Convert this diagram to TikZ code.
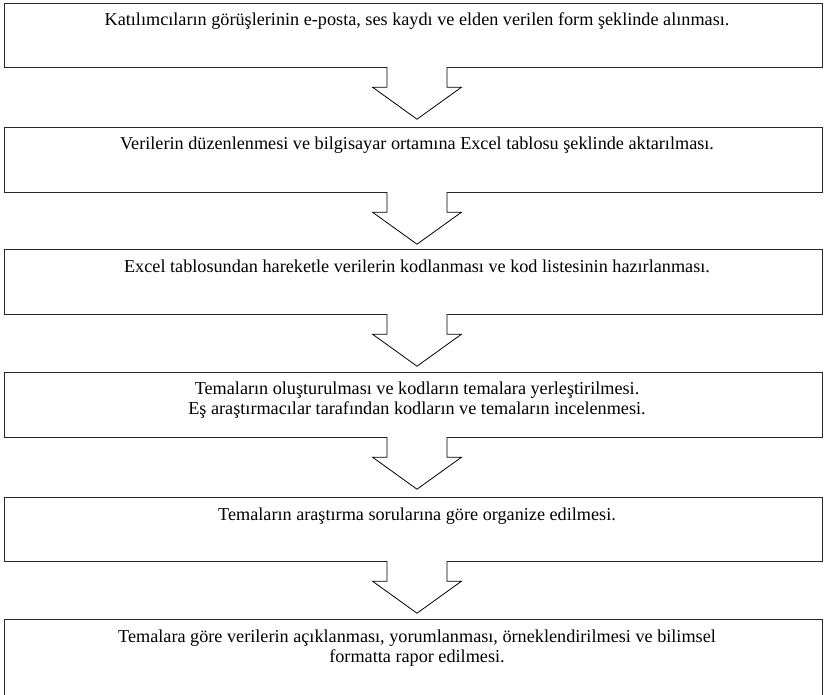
\documentclass[tikz,border=0pt]{standalone}
\usepackage{fontspec}
\setmainfont{Liberation Serif}
\tikzset{
  stepbox/.style={shape=rectangle, draw=black!85, line width=1.2pt, anchor=north west, inner sep=0pt},
  steptext/.style={anchor=base, align=center, inner sep=0pt, font=\fontsize{18.2}{20}\selectfont},
  downarrow/.pic={
    \draw[fill=white, line width=0.8pt] (-30,-1) -- (-30,19) -- (-44.5,19) -- (0,51)
      -- (44.5,19) -- (30,19) -- (30,-1);
  }
}
\begin{document}
\begin{tikzpicture}[x=1pt, y=-1pt]
\useasboundingbox (0,0) rectangle (824,695);

\node[stepbox, minimum width=818pt, minimum height=64pt] (b1) at (4,3) {};
\node[stepbox, minimum width=818pt, minimum height=65pt] (b2) at (4,127) {};
\node[stepbox, minimum width=818pt, minimum height=65pt] (b3) at (4,249) {};
\node[stepbox, minimum width=818pt, minimum height=65pt] (b4) at (4,372) {};
\node[stepbox, minimum width=818pt, minimum height=64pt] (b5) at (4,497) {};
\node[stepbox, minimum width=818pt, minimum height=76pt] (b6) at (4,619) {};

% base of a two-line text is its last line
\node[steptext] (t1) at (417,26) {Katılımcıların görüşlerinin e-posta, ses kaydı ve elden verilen form şeklinde alınması.};
\node[steptext] (t2) at (417,150) {Verilerin düzenlenmesi ve bilgisayar ortamına Excel tablosu şeklinde aktarılması.};
\node[steptext] (t3) at (417,272) {Excel tablosundan hareketle verilerin kodlanması ve kod listesinin hazırlanması.};
\node[steptext] (t4) at (417,414) {Temaların oluşturulması ve kodların temalara yerleştirilmesi.\\Eş araştırmacılar tarafından kodların ve temaların incelenmesi.};
\node[steptext] (t5) at (417,520) {Temaların araştırma sorularına göre organize edilmesi.};
\node[steptext] (t6) at (417,662) {Temalara göre verilerin açıklanması, yorumlanması, örneklendirilmesi ve bilimsel\\formatta rapor edilmesi.};

% arrows between the steps
\pic at (t1 |- b1.south) {downarrow};
\pic at (t2 |- b2.south) {downarrow};
\pic at (t3 |- b3.south) {downarrow};
\pic at (t4 |- b4.south) {downarrow};
\pic at (t5 |- b5.south) {downarrow};
\end{tikzpicture}
\end{document}
